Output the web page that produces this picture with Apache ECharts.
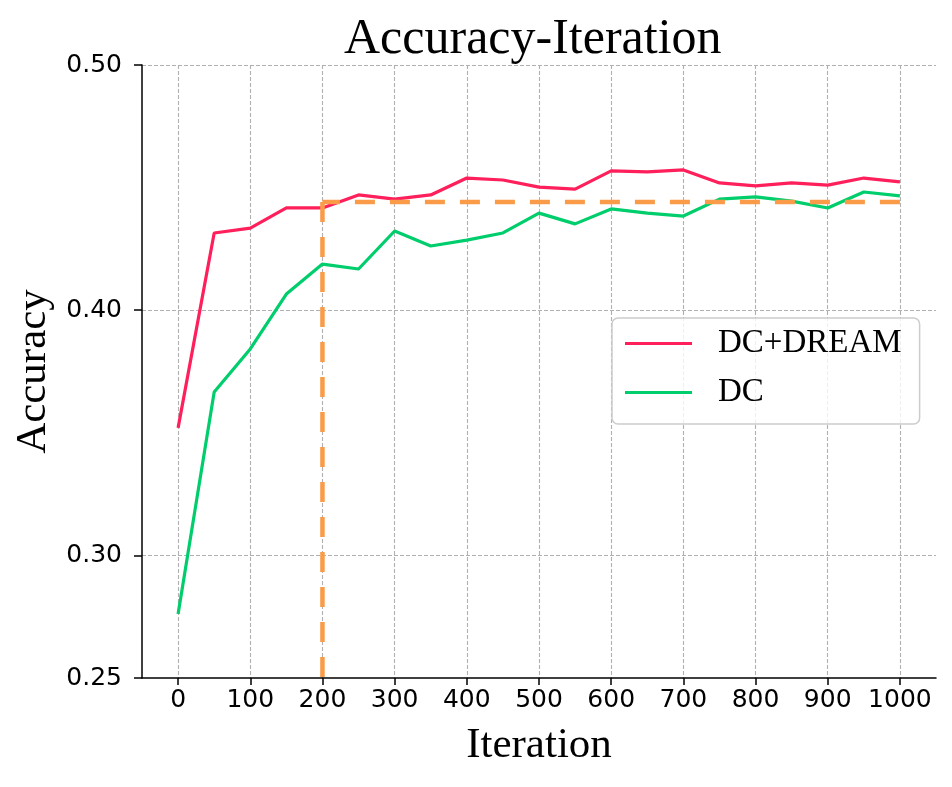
<!DOCTYPE html>
<html lang="en" style="height: 100%">

<head>
  <meta charset="utf-8">
</head>

<body style="height: 100%; margin: 0; background: #fff">
  <div id="container" style="height: 100%"></div>

  <script type="text/javascript" src="https://cdn.jsdelivr.net/npm/echarts@6/dist/echarts.min.js"></script>

  <script type="text/javascript">
    // values
    var iterations = [0, 50, 100, 150, 200, 250, 300, 350, 400, 450, 500,
      550, 600, 650, 700, 750, 800, 850, 900, 950, 1000];
    var dcDream = [0.352, 0.4315, 0.4335, 0.4417, 0.4417, 0.447, 0.4453, 0.447, 0.4539, 0.4531, 0.4502,
      0.4494, 0.4568, 0.4564, 0.4572, 0.4519, 0.4507, 0.4519, 0.451, 0.4539, 0.4523];
    var dc = [0.2761, 0.3666, 0.3842, 0.4066, 0.4188, 0.4168, 0.4323, 0.4262, 0.4286, 0.4315, 0.4396,
      0.4352, 0.4413, 0.4396, 0.4384, 0.4453, 0.4462, 0.4445, 0.4417, 0.4482, 0.4466];
    var refIter = 200;
    var refAcc = 0.4441;
    var xTicks = [0, 100, 200, 300, 400, 500, 600, 700, 800, 900, 1000];
    var yTicks = [0.25, 0.30, 0.40, 0.50];

    var dom = document.getElementById('container');
    var myChart = echarts.init(dom, null, { renderer: 'canvas' });

    var serif = '"Liberation Serif", "Times New Roman", serif';
    var sans = '"DejaVu Sans", sans-serif';
    var gridGray = '#b0b0b0';

    function pairs(ys) {
      return iterations.map(function (x, i) { return [x, ys[i]]; });
    }

    var option = {
      backgroundColor: '#fff',
      animation: false,
      title: {
        text: 'Accuracy-Iteration',
        left: 344,
        top: 15,
        padding: 0,
        textStyle: { fontFamily: serif, fontSize: 50, fontWeight: 'normal', color: '#000' }
      },
      grid: { left: 142, right: 16, top: 65, bottom: 109, outerBoundsMode: 'none' },
      legend: {
        data: ['DC+DREAM', 'DC'],
        orient: 'vertical',
        left: 612,
        top: 318,
        padding: [9, 18, 15, 13],
        icon: 'rect',
        itemWidth: 67,
        itemHeight: 3,
        itemGap: 16,
        backgroundColor: 'rgba(255,255,255,0.8)',
        borderColor: '#cccccc',
        borderWidth: 1.5,
        borderRadius: 6,
        textStyle: { fontFamily: serif, fontSize: 33, color: '#000', padding: [0, 0, 0, 21] }
      },
      xAxis: [
        {
          // grid + spine
          type: 'value', min: -50, max: 1050, interval: 50, position: 'bottom',
          axisLine: { onZero: false, lineStyle: { color: '#000', width: 1.5 } },
          axisTick: { show: false },
          axisLabel: { show: false },
          splitLine: { show: true, lineStyle: { color: ['transparent', gridGray], type: [4, 2], width: 1.1 } }
        },
        {
          // labels + ticks
          type: 'value', min: -50, max: 1050, position: 'bottom',
          axisLine: { show: false, onZero: false },
          axisTick: { show: true, customValues: xTicks, length: 7, lineStyle: { color: '#000', width: 1.5 } },
          axisLabel: {
            customValues: xTicks, margin: 10, fontFamily: sans, fontSize: 25, color: '#000',
            formatter: function (v) { return String(v); }
          },
          splitLine: { show: false },
          name: 'Iteration', nameLocation: 'middle', nameGap: 46,
          nameTextStyle: { fontFamily: serif, fontSize: 43, color: '#000' }
        }
      ],
      yAxis: [
        {
          type: 'value', min: 0.25, max: 0.5, interval: 0.05, position: 'left',
          axisLine: { show: true, onZero: false, lineStyle: { color: '#000', width: 1.5 } },
          axisTick: { show: false },
          axisLabel: { show: false },
          splitLine: { show: true, lineStyle: { color: ['transparent', gridGray], type: [4, 2], width: 1.1 } }
        },
        {
          type: 'value', min: 0.25, max: 0.5, position: 'left',
          axisLine: { show: false, onZero: false },
          axisTick: { show: true, customValues: yTicks, length: 8, lineStyle: { color: '#000', width: 1.5 } },
          axisLabel: {
            customValues: yTicks, margin: 20, fontFamily: sans, fontSize: 25, color: '#000',
            formatter: function (v) { return v.toFixed(2); }
          },
          splitLine: { show: false },
          name: 'Accuracy', nameLocation: 'middle', nameGap: 85,
          nameTextStyle: { fontFamily: serif, fontSize: 43, color: '#000' }
        }
      ],
      series: [
        {
          name: 'DC+DREAM', type: 'line', data: pairs(dcDream),
          symbol: 'none', color: '#ff1f5b', z: 3,
          lineStyle: { width: 3.2, color: '#ff1f5b' }
        },
        {
          name: 'DC', type: 'line', data: pairs(dc),
          symbol: 'none', color: '#00cd6c', z: 3,
          lineStyle: { width: 3.2, color: '#00cd6c' }
        },
        {
          name: 'ref-h', type: 'line', symbol: 'none', z: 4, silent: true,
          data: [[1000, refAcc], [refIter, refAcc]],
          lineStyle: { width: 4.5, color: '#f99b48', type: [20, 15] }
        },
        {
          name: 'ref-v', type: 'line', symbol: 'none', z: 4, silent: true,
          data: [[refIter, refAcc], [refIter, 0.25]],
          lineStyle: { width: 4.5, color: '#f99b48', type: [20, 15] }
        }
      ]
    };

    myChart.setOption(option);
    window.addEventListener('resize', myChart.resize);
  </script>
</body>

</html>
